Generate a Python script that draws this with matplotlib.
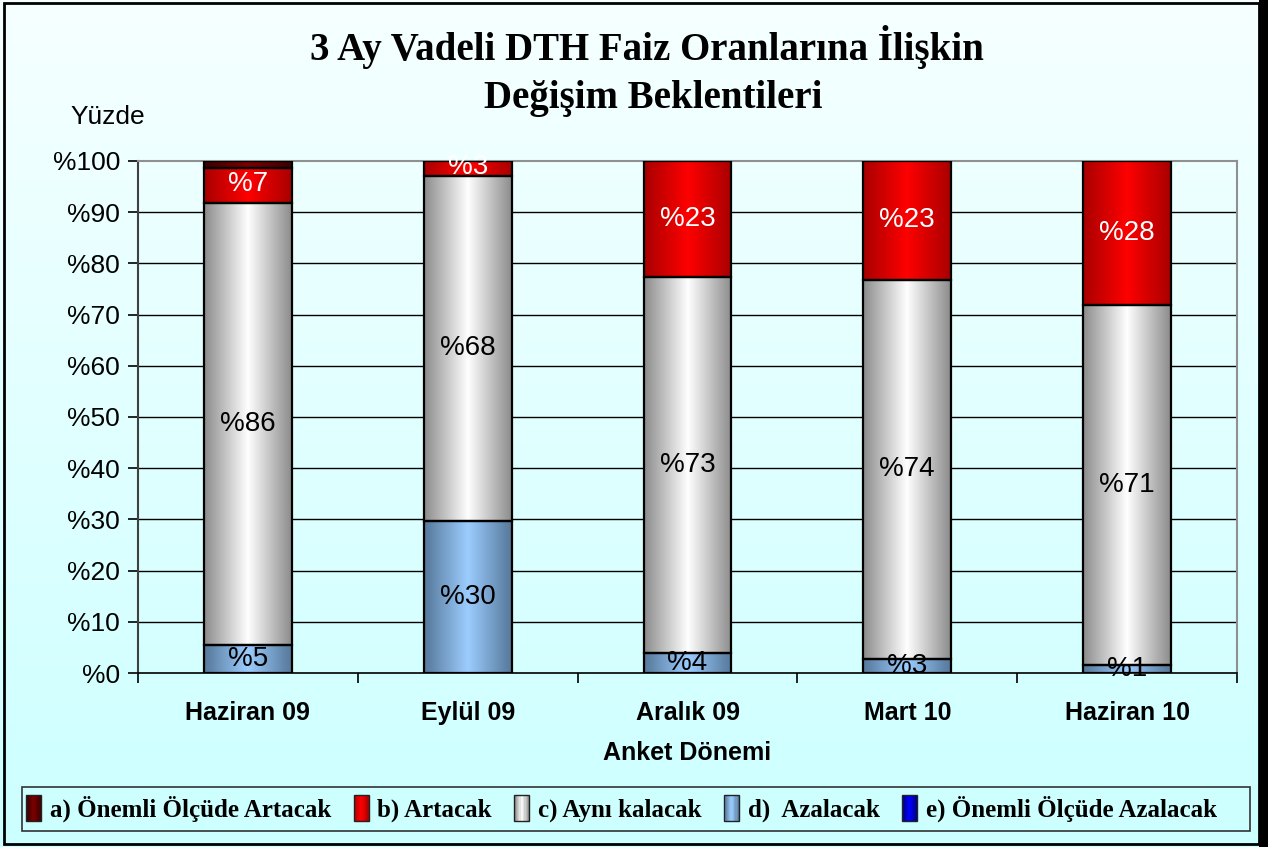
import numpy as np
import matplotlib
matplotlib.use("Agg")
import matplotlib.pyplot as plt
from matplotlib.colors import LinearSegmentedColormap
from matplotlib.patches import Rectangle
from matplotlib.legend_handler import HandlerBase

# veriler
donemler = ["Haziran 09", "Eylül 09", "Aralık 09", "Mart 10", "Haziran 10"]
e_onemli_azalacak = [0.0, 0.0, 0.0, 0.0, 0.0]
d_azalacak = [5.5, 29.7, 3.9, 2.7, 1.6]
c_ayni = [86.3, 67.4, 73.4, 74.1, 70.3]
b_artacak = [6.8, 2.9, 22.7, 23.2, 28.1]
a_onemli_artacak = [1.4, 0.0, 0.0, 0.0, 0.0]

etiket_d = ["%5", "%30", "%4", "%3", "%1"]
etiket_c = ["%86", "%68", "%73", "%74", "%71"]
etiket_b = ["%7", "%3", "%23", "%23", "%28"]

seri_adlari = ["a) Önemli Ölçüde Artacak", "b) Artacak", "c) Aynı kalacak",
               "d)  Azalacak", "e) Önemli Ölçüde Azalacak"]

# (kenar, orta) renkleri - silindir görünümü
renkler = {
    "a": ("#3a0000", "#7a0000"),
    "b": ("#a80000", "#ff0000"),
    "c": ("#8c8c8c", "#ffffff"),
    "d": ("#56789a", "#9ccdff"),
    "e": ("#000080", "#0000ff"),
}


def grad_cmap(kenar, orta):
    return LinearSegmentedColormap.from_list("g", [kenar, orta, kenar])


fig = plt.figure(figsize=(12.68, 8.47), dpi=100)

# arka plan gradyanı
bg = fig.add_axes([0, 0, 1, 1], zorder=-10)
grad = np.linspace(0, 1, 256).reshape(-1, 1)
bg.imshow(grad, aspect="auto", extent=[0, 1, 0, 1],
          cmap=LinearSegmentedColormap.from_list("bg", ["#f6ffff", "#ccffff"]))
bg.set_xlim(0, 1)
bg.set_ylim(0, 1)
bg.set_axis_off()
bg.add_patch(Rectangle((0.003, 0.004), 0.99, 0.992, transform=bg.transAxes,
                       fill=False, edgecolor="black", linewidth=2))
bg.add_patch(Rectangle((0.993, 0.0), 0.007, 1.0, transform=bg.transAxes,
                       facecolor="black", edgecolor="none"))
# lejant çerçevesi
bg.add_patch(Rectangle((22 / 1268, 1 - 831 / 847), 1228 / 1268, 44 / 847,
                       transform=bg.transAxes, fill=False, edgecolor="#333333",
                       linewidth=1.2))

ax = fig.add_axes([138 / 1268, (847 - 673) / 847, 1099 / 1268, 512 / 847])
ax.patch.set_alpha(0)

x = np.arange(len(donemler)) + 0.5
genislik = 0.4
yatay = np.linspace(0, 1, 128).reshape(1, -1)


def segment_ciz(alt, deger, anahtar):
    kenar, orta = renkler[anahtar]
    cm = grad_cmap(kenar, orta)
    for xi, a, d in zip(x, alt, deger):
        if d <= 0:
            continue
        r = Rectangle((xi - genislik / 2, a), genislik, d, facecolor="none",
                      edgecolor="black", linewidth=1.6, zorder=4)
        ax.add_patch(r)
        im = ax.imshow(yatay, aspect="auto", cmap=cm, zorder=3,
                       extent=[xi - genislik / 2, xi + genislik / 2, a, a + d])
        im.set_clip_path(r)


alt = np.zeros(len(x))
for anahtar, seri in [("e", e_onemli_azalacak), ("d", d_azalacak), ("c", c_ayni),
                      ("b", b_artacak), ("a", a_onemli_artacak)]:
    segment_ciz(alt, seri, anahtar)
    if anahtar == "d":
        for xi, a, d, t in zip(x, alt, seri, etiket_d):
            ax.text(xi, a + d / 2, t, ha="center", va="center", fontsize=20,
                    family="Liberation Sans", color="black", zorder=6)
    if anahtar == "c":
        for xi, a, d, t in zip(x, alt, seri, etiket_c):
            ax.text(xi, a + d / 2, t, ha="center", va="center", fontsize=20,
                    family="Liberation Sans", color="black", zorder=6)
    if anahtar == "b":
        for xi, a, d, t in zip(x, alt, seri, etiket_b):
            yy = a + d / 2 if d > 10 else a + d / 2 + 0.3
            ax.text(xi, yy, t, ha="center", va="center", fontsize=20,
                    family="Liberation Sans", color="white", zorder=6)
    alt = alt + np.array(seri)

ax.set_xlim(0, 5)
ax.set_ylim(0, 100)
ax.set_yticks(np.arange(0, 101, 10))
ax.set_yticklabels(["%" + str(v) for v in range(0, 101, 10)],
                   fontsize=19, family="Liberation Sans")
for v in range(10, 100, 10):
    ax.axhline(v, color="black", linewidth=1, zorder=1)
ax.set_xticks(np.arange(0, 6))
ax.set_xticklabels([])
ax.set_xticks(x, minor=True)
ax.set_xticklabels(donemler, minor=True, fontsize=18, fontweight="bold",
                   family="Liberation Sans")
ax.tick_params(axis="x", which="minor", length=0, pad=20)
ax.tick_params(axis="x", which="major", length=7, width=1.2, direction="out")
ax.tick_params(axis="y", length=7, width=1.2, direction="out", pad=6)
for s in ["top", "right"]:
    ax.spines[s].set_color("#909090")
    ax.spines[s].set_linewidth(1.5)
ax.spines["left"].set_color("#404040")
ax.spines["left"].set_linewidth(1.5)
ax.spines["bottom"].set_color("black")
ax.spines["bottom"].set_linewidth(1.2)

ax.set_xlabel("Anket Dönemi", fontsize=18, fontweight="bold",
              family="Liberation Sans", labelpad=12)
fig.text(70 / 1268, 1 - 117 / 847, "Yüzde", fontsize=19, family="Liberation Sans",
         ha="left", va="center")

fig.text(0.51, 1 - 47 / 847, "3 Ay Vadeli DTH Faiz Oranlarına İlişkin",
         fontsize=28, fontweight="bold", family="Liberation Serif",
         ha="center", va="center")
fig.text(0.515, 1 - 98 / 847, "Değişim Beklentileri",
         fontsize=28, fontweight="bold", family="Liberation Serif",
         ha="center", va="center")


class GradHandler(HandlerBase):
    def __init__(self, kenar, orta):
        super().__init__()
        self.cm = grad_cmap(kenar, orta)

    def create_artists(self, legend, orig_handle, xdescent, ydescent,
                       width, height, fontsize, trans):
        w = width
        h = height * 1.5
        x0 = -xdescent
        y0 = -ydescent - 0.25 * height
        n = 12
        parcalar = []
        for i in range(n):
            p = Rectangle((x0 + i * w / n, y0), w / n + 0.2, h,
                          facecolor=self.cm((i + 0.5) / n), edgecolor="none",
                          transform=trans)
            parcalar.append(p)
        parcalar.append(Rectangle((x0, y0), w, h, facecolor="none",
                                  edgecolor="#222222", linewidth=1, transform=trans))
        return parcalar


tutucular = [Rectangle((0, 0), 1, 1) for _ in seri_adlari]
handler_map = {}
for t, k in zip(tutucular, ["a", "b", "c", "d", "e"]):
    handler_map[t] = GradHandler(*renkler[k])

leg = fig.legend(tutucular, seri_adlari, handler_map=handler_map, ncol=5,
                 loc="center left", bbox_to_anchor=(26 / 1268, 1 - 809 / 847),
                 frameon=False, borderaxespad=0, borderpad=0,
                 handlelength=0.6, handletextpad=0.35, columnspacing=0.9,
                 prop={"family": "Liberation Serif", "weight": "bold", "size": 18})

fig.savefig("out.png", dpi=100)
